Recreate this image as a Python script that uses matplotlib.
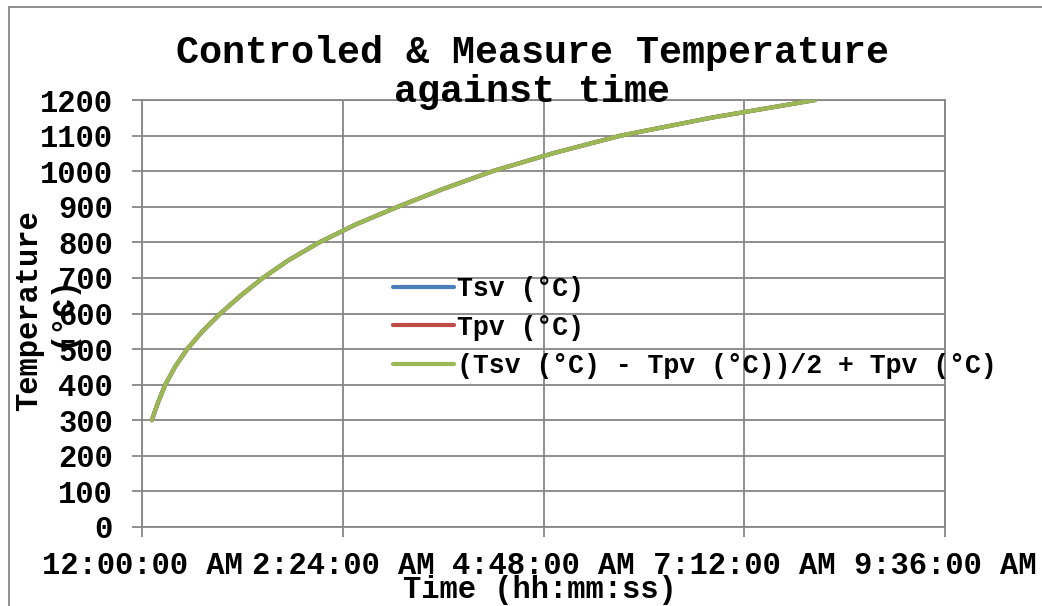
import matplotlib
matplotlib.use('Agg')
import matplotlib.pyplot as plt
import matplotlib.ticker as mticker
from matplotlib.patches import Rectangle
import numpy as np
import pandas as pd

plt.rcParams['font.family'] = ['Liberation Mono', 'DejaVu Sans Mono']
plt.rcParams['font.weight'] = 'bold'

# data
times = ['0:07:00', '0:11:30', '0:16:42', '0:23:42', '0:32:24', '0:43:24', '0:56:12',
         '1:10:42', '1:26:42', '1:45:12', '2:07:12', '2:33:12', '3:03:30', '3:36:00',
         '4:11:30', '4:54:30', '5:43:30', '6:48:00', '8:03:00']
tsv = [300, 350, 400, 450, 500, 550, 600, 650, 700, 750, 800, 850, 900, 950,
       1000, 1050, 1100, 1150, 1200]
tpv = [300, 350, 400, 450, 500, 550, 600, 650, 700, 750, 800, 850, 900, 950,
       1000, 1050, 1100, 1150, 1200]
labels = ['Tsv (°C)', 'Tpv (°C)', '(Tsv (°C) - Tpv (°C))/2 + Tpv (°C)']
colors = ['#4A7EBB', '#BE4B48', '#98B954']

# excel style: time as fraction of a day
days = pd.to_timedelta(times) / pd.Timedelta('1D')
tsv = np.array(tsv, dtype=float)
tpv = np.array(tpv, dtype=float)
tmid = (tsv - tpv) / 2 + tpv


def time_fmt(v, pos):
    secs = int(round(v * 86400))
    h, rem = divmod(secs, 3600)
    m, s = divmod(rem, 60)
    ampm = 'AM' if h < 12 else 'PM'
    return f'{h % 12 or 12}:{m:02d}:{s:02d} {ampm}'


fig = plt.figure(figsize=(10.42, 6.06), dpi=100)
ax = fig.add_axes([142/1042, 1 - 527/606, (945-142)/1042, (527-100)/606])

grid = '#868686'
for y, c, lab in zip([tsv, tpv, tmid], colors, labels):
    ax.plot(days, y, color=c, lw=3.0, label=lab, solid_capstyle='round', zorder=3)

ax.set_xlim(0, 0.4)
ax.set_ylim(0, 1200)
ax.xaxis.set_major_locator(mticker.MultipleLocator(0.1))
ax.xaxis.set_major_formatter(mticker.FuncFormatter(time_fmt))
ax.yaxis.set_major_locator(mticker.MultipleLocator(100))
ax.grid(True, color=grid, lw=1.3)
ax.set_axisbelow(True)
for sp in ax.spines.values():
    sp.set_color(grid)
    sp.set_linewidth(1.3)
ax.tick_params(axis='both', colors=grid, labelcolor='black', labelsize=22,
               length=7, width=1.3)
ax.tick_params(axis='y', pad=14)
ax.tick_params(axis='x', pad=10)

ax.set_xlabel('Time (hh:mm:ss)', fontsize=22, fontweight='bold')
ax.xaxis.set_label_coords(0.495, -0.112)
ax.xaxis.label.set_va('top')
ax.set_ylabel('Temperature\n(°C)', fontsize=22, fontweight='bold', linespacing=1.1)
ax.yaxis.set_label_coords(-0.12, 0.506)
ax.yaxis.label.set_va('center')

fig.text(532/1042, 1 - 35/606, 'Controled & Measure Temperature\nagainst time',
         ha='center', va='top', fontsize=27.6, fontweight='bold', linespacing=1.1)

ax.legend(loc='upper left', bbox_to_anchor=(393/1042, 1 - 276/606),
          bbox_transform=fig.transFigure, frameon=False,
          borderpad=0, borderaxespad=0, handlelength=2.3, handletextpad=0.12,
          labelspacing=0.48, prop={'weight': 'bold', 'size': 19.1})

# chart area border
fig.patches.append(Rectangle((9/1042, -0.1), 1.2, 1.1 - 7/606, transform=fig.transFigure,
                             fill=False, edgecolor=grid, lw=1.3, figure=fig))

fig.savefig('out.png', dpi=100)
